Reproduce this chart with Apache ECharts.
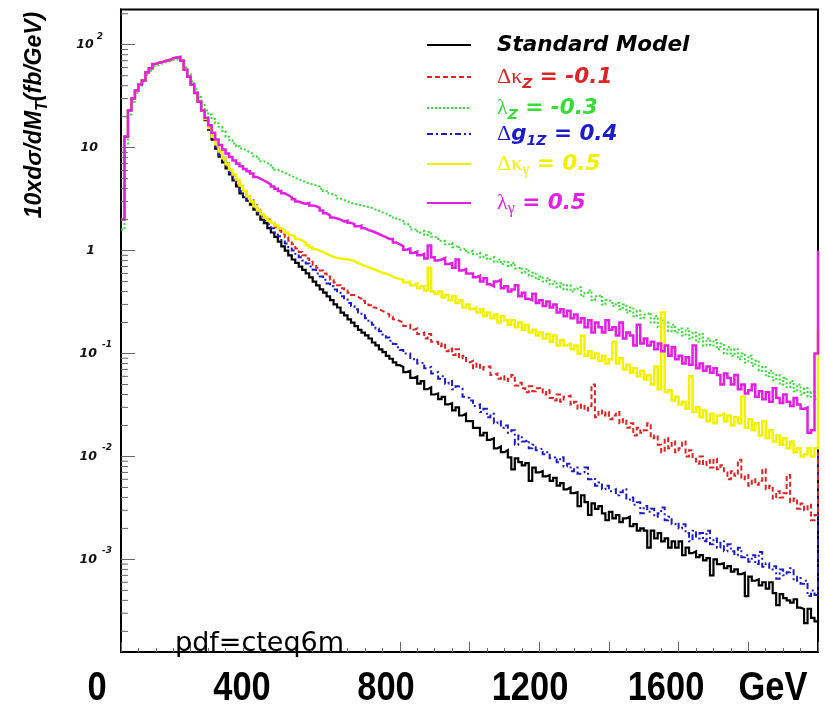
<!DOCTYPE html>
<html>
<head>
<meta charset="utf-8">
<script src="https://cdn.jsdelivr.net/npm/echarts@6/dist/echarts.min.js"></script>
<style>
  html, body { margin: 0; padding: 0; background: #ffffff; }
  #chart { width: 825px; height: 710px; }
</style>
</head>
<body>
<div id="chart"></div>
<script>
// Transverse-mass spectra, 10 GeV bins from 0 to 2000 GeV (last entry = overflow edge)
const BIN_WIDTH = 10;

const standardModel = [
  2.0, 12.8, 23, 30, 36, 41, 45, 54, 59, 65,
  67, 68, 70, 71, 74, 75, 76, 70, 57, 49,
  41, 34, 28, 23, 18.5, 15, 12, 9.8, 8.2, 7.2,
  6.3, 5.5, 4.8, 4.2, 3.6, 3.3, 3.05, 2.8, 2.5, 2.25,
  2.0, 1.85, 1.65, 1.5, 1.36, 1.22, 1.1, 1.0, 0.9, 0.82,
  0.76, 0.7, 0.65, 0.6, 0.55, 0.5, 0.46, 0.42, 0.39, 0.36,
  0.33, 0.3, 0.28, 0.25, 0.235, 0.215, 0.2, 0.185, 0.17, 0.16,
  0.15, 0.14, 0.128, 0.12, 0.11, 0.103, 0.095, 0.089, 0.082, 0.077,
  0.074, 0.066, 0.068, 0.058, 0.06, 0.051, 0.054, 0.045, 0.047, 0.04,
  0.041, 0.036, 0.038, 0.032, 0.033, 0.028, 0.03, 0.025, 0.026, 0.022,
  0.022, 0.019, 0.019, 0.016, 0.017, 0.0145, 0.015, 0.012, 0.0125, 0.011,
  0.0115, 0.0098, 0.0075, 0.0096, 0.0088, 0.0082, 0.0086, 0.0058, 0.0078, 0.007,
  0.0072, 0.0064, 0.0066, 0.0058, 0.0062, 0.0052, 0.0055, 0.0048, 0.005, 0.0044,
  0.0045, 0.0033, 0.0042, 0.0036, 0.0027, 0.0035, 0.0031, 0.0033, 0.0028, 0.0024,
  0.0029, 0.0025, 0.0027, 0.0023, 0.0025, 0.0026, 0.0021, 0.0022, 0.0019, 0.002,
  0.0019, 0.0013, 0.0019, 0.0016, 0.0018, 0.0015, 0.0016, 0.0013, 0.0015, 0.0013,
  0.0015, 0.0011, 0.0013, 0.00115, 0.0012, 0.00105, 0.0011, 0.00098, 0.00103, 0.0007,
  0.001, 0.0009, 0.00092, 0.00082, 0.00086, 0.00076, 0.0008, 0.00072, 0.00074, 0.00044,
  0.00068, 0.00062, 0.00064, 0.00056, 0.0006, 0.00052, 0.0006, 0.00047, 0.00036, 0.00046,
  0.00042, 0.0004, 0.00038, 0.00041, 0.00034, 0.00033, 0.00024, 0.00033, 0.00027, 0.00025,
  0.00026
];

const deltaKappaZ = [
  2.0, 12.8, 23, 30, 36, 41, 45, 54, 59, 65,
  67, 68, 70, 71, 74, 75, 76, 70, 57, 49,
  41, 34, 28, 23, 19.5, 16, 13, 10.8, 9.2, 8.0,
  7.0, 6.1, 5.4, 4.8, 4.2, 3.8, 3.4, 3.1, 2.85, 2.6,
  2.35, 2.15, 2.0, 1.85, 1.7, 1.57, 1.45, 1.35, 1.25, 1.15,
  1.05, 0.97, 0.9, 0.84, 0.78, 0.73, 0.68, 0.64, 0.6, 0.56,
  0.52, 0.49, 0.46, 0.43, 0.41, 0.39, 0.37, 0.355, 0.34, 0.325,
  0.31, 0.295, 0.28, 0.27, 0.26, 0.25, 0.24, 0.228, 0.215, 0.207,
  0.2, 0.185, 0.19, 0.17, 0.175, 0.155, 0.16, 0.14, 0.155, 0.13,
  0.13, 0.118, 0.125, 0.105, 0.112, 0.097, 0.11, 0.09, 0.095, 0.082,
  0.085, 0.072, 0.08, 0.07, 0.074, 0.075, 0.062, 0.064, 0.057, 0.06,
  0.054, 0.057, 0.062, 0.049, 0.052, 0.046, 0.042, 0.048, 0.043, 0.046,
  0.047, 0.04, 0.044, 0.037, 0.035, 0.04, 0.034, 0.038, 0.039, 0.032,
  0.034, 0.029, 0.032, 0.028, 0.031, 0.05, 0.024, 0.028, 0.025, 0.027,
  0.023, 0.025, 0.027, 0.021, 0.023, 0.019, 0.021, 0.016, 0.019, 0.017,
  0.018, 0.021, 0.015, 0.016, 0.013, 0.011, 0.015, 0.012, 0.014, 0.011,
  0.012, 0.014, 0.01, 0.0115, 0.0095, 0.0085, 0.01, 0.0082, 0.0092, 0.0078,
  0.0095, 0.0075, 0.0082, 0.007, 0.006, 0.0072, 0.0065, 0.0093, 0.006, 0.0066,
  0.0052, 0.006, 0.0053, 0.0058, 0.0075, 0.0048, 0.0052, 0.0039, 0.0046, 0.004,
  0.0044, 0.0066, 0.0036, 0.0039, 0.0031, 0.0035, 0.003, 0.0034, 0.0024, 0.0027,
  0.011
];

const lambdaZ = [
  1.6, 11, 21, 28, 34, 39, 43, 51, 56, 62,
  64, 66, 68, 69, 71, 72, 73, 70, 60, 52,
  44, 37, 31, 26, 23, 21, 19, 17.3, 16, 14.5,
  12.8, 11.8, 11, 10.3, 9.8, 9.4, 9.0, 8.7, 8.2, 7.8,
  7.4, 7.1, 6.8, 6.4, 6.1, 5.9, 5.7, 5.5, 5.3, 5.1,
  4.9, 4.8, 4.6, 4.5, 4.4, 4.3, 4.2, 4.0, 3.8, 3.6,
  3.5, 3.4, 3.2, 3.1, 3.0, 2.9, 2.85, 2.8, 2.75, 2.7,
  2.65, 2.6, 2.5, 2.45, 2.35, 2.3, 2.2, 2.15, 2.05, 2.0,
  1.95, 1.82, 1.78, 1.6, 1.62, 1.5, 1.55, 1.42, 1.52, 1.36,
  1.34, 1.25, 1.24, 1.15, 1.18, 1.08, 1.12, 1.02, 1.05, 0.96,
  0.99, 0.92, 0.95, 0.86, 0.9, 0.83, 0.86, 0.78, 0.82, 0.74,
  0.78, 0.71, 0.76, 0.67, 0.69, 0.61, 0.66, 0.57, 0.61, 0.53,
  0.56, 0.5, 0.54, 0.47, 0.5, 0.44, 0.48, 0.42, 0.46, 0.4,
  0.42, 0.44, 0.36, 0.39, 0.41, 0.33, 0.36, 0.37, 0.3, 0.33,
  0.32, 0.29, 0.31, 0.27, 0.3, 0.25, 0.28, 0.23, 0.26, 0.22,
  0.24, 0.25, 0.2, 0.23, 0.18, 0.21, 0.2, 0.165, 0.19, 0.16,
  0.175, 0.15, 0.175, 0.14, 0.16, 0.13, 0.155, 0.12, 0.14, 0.12,
  0.135, 0.11, 0.125, 0.1, 0.115, 0.095, 0.11, 0.088, 0.1, 0.082,
  0.095, 0.076, 0.085, 0.068, 0.074, 0.06, 0.068, 0.055, 0.062, 0.05,
  0.058, 0.047, 0.054, 0.043, 0.05, 0.04, 0.046, 0.038, 0.042, 0.036,
  0.04
];

const deltaG1Z = [
  2.0, 12.8, 23, 30, 36, 41, 45, 54, 59, 65,
  67, 68, 70, 71, 74, 75, 76, 70, 57, 49,
  41, 34, 28, 23, 19, 15.5, 12.5, 10.2, 8.5, 7.4,
  6.5, 5.7, 5.0, 4.3, 3.8, 3.4, 3.1, 2.85, 2.6, 2.35,
  2.15, 1.95, 1.8, 1.65, 1.5, 1.38, 1.27, 1.17, 1.08, 1.0,
  0.93, 0.86, 0.8, 0.75, 0.7, 0.65, 0.6, 0.56, 0.52, 0.48,
  0.45, 0.42, 0.39, 0.36, 0.335, 0.31, 0.29, 0.27, 0.25, 0.235,
  0.22, 0.2, 0.19, 0.175, 0.165, 0.153, 0.143, 0.133, 0.124, 0.115,
  0.108, 0.1, 0.1, 0.088, 0.09, 0.08, 0.082, 0.072, 0.074, 0.064,
  0.066, 0.057, 0.06, 0.051, 0.054, 0.045, 0.048, 0.046, 0.038, 0.037,
  0.035, 0.031, 0.032, 0.027, 0.029, 0.024, 0.026, 0.021, 0.022, 0.019,
  0.02, 0.017, 0.018, 0.013, 0.016, 0.014, 0.0145, 0.012, 0.013, 0.0115,
  0.012, 0.0105, 0.011, 0.0096, 0.01, 0.0088, 0.0098, 0.008, 0.0085, 0.0072,
  0.0078, 0.0068, 0.007, 0.0078, 0.006, 0.0062, 0.0052, 0.0056, 0.0048, 0.0052,
  0.0046, 0.0048, 0.0042, 0.0045, 0.0048, 0.0038, 0.004, 0.0034, 0.0036, 0.0028,
  0.0033, 0.0029, 0.0031, 0.0026, 0.0028, 0.0032, 0.0024, 0.0026, 0.0022, 0.0023,
  0.002, 0.0022, 0.0018, 0.0015, 0.0019, 0.0016, 0.0018, 0.0015, 0.0019, 0.0014,
  0.0016, 0.0013, 0.0015, 0.0012, 0.0014, 0.0012, 0.0011, 0.0013, 0.00105, 0.0011,
  0.00095, 0.0011, 0.0009, 0.00118, 0.00085, 0.00092, 0.0008, 0.00086, 0.00065, 0.0008,
  0.0007, 0.00075, 0.00082, 0.00062, 0.00068, 0.00058, 0.00062, 0.00044, 0.0005, 0.00045,
  0.011
];

const deltaKappaGamma = [
  2.0, 12.8, 23, 30, 36, 41, 45, 54, 59, 65,
  67, 68, 70, 71, 74, 75, 76, 70, 57, 49,
  41, 34, 28, 23, 19, 15.5, 12.8, 10.8, 9.2, 7.9,
  6.9, 6.1, 5.5, 4.9, 4.3, 3.8, 3.35, 3.0, 2.7, 2.45,
  2.25, 2.1, 1.95, 1.85, 1.75, 1.65, 1.58, 1.5, 1.42, 1.36,
  1.3, 1.25, 1.2, 1.13, 1.08, 1.03, 1.0, 0.97, 0.93, 0.9,
  0.87, 0.85, 0.84, 0.83, 0.82, 0.81, 0.79, 0.76, 0.73, 0.71,
  0.69, 0.67, 0.65, 0.63, 0.61, 0.6, 0.58, 0.56, 0.54, 0.53,
  0.52, 0.49, 0.5, 0.46, 0.48, 0.43, 0.45, 0.41, 0.68, 0.4,
  0.38, 0.4, 0.35, 0.37, 0.33, 0.36, 0.31, 0.33, 0.28, 0.3,
  0.27, 0.28, 0.25, 0.27, 0.23, 0.25, 0.22, 0.24, 0.2, 0.23,
  0.21, 0.19, 0.21, 0.18, 0.2, 0.17, 0.19, 0.16, 0.17, 0.15,
  0.16, 0.14, 0.155, 0.13, 0.15, 0.12, 0.135, 0.12, 0.125, 0.11,
  0.12, 0.1, 0.15, 0.095, 0.105, 0.09, 0.1, 0.085, 0.095, 0.08,
  0.088, 0.13, 0.08, 0.09, 0.07, 0.078, 0.065, 0.072, 0.06, 0.068,
  0.056, 0.062, 0.05, 0.075, 0.045, 0.25, 0.042, 0.044, 0.035, 0.038,
  0.032, 0.034, 0.029, 0.06, 0.027, 0.03, 0.024, 0.028, 0.022, 0.026,
  0.021, 0.025, 0.026, 0.022, 0.025, 0.02, 0.024, 0.021, 0.038, 0.019,
  0.023, 0.018, 0.021, 0.016, 0.022, 0.015, 0.018, 0.014, 0.016, 0.013,
  0.015, 0.012, 0.014, 0.011, 0.012, 0.01, 0.0105, 0.012, 0.01, 0.012,
  0.17
];

const lambdaGamma = [
  2.0, 12.8, 23, 30, 36, 41, 45, 54, 59, 65,
  67, 68, 70, 71, 74, 75, 76, 70, 57, 49,
  41, 34, 28, 23, 19.5, 16.5, 14, 12, 10.6, 9.6,
  8.8, 8.1, 7.5, 7.0, 6.6, 6.2, 5.9, 5.6, 5.2, 5.0,
  4.8, 4.6, 4.4, 4.2, 4.0, 3.8, 3.6, 3.45, 3.3, 3.15,
  3.0, 2.9, 2.85, 2.9, 2.75, 2.7, 2.6, 2.45, 2.3, 2.2,
  2.1, 2.05, 2.0, 1.92, 1.95, 1.86, 1.8, 1.72, 1.75, 1.65,
  1.58, 1.55, 1.5, 1.45, 1.4, 1.35, 1.3, 1.3, 1.2, 1.15,
  1.1, 1.02, 1.05, 0.95, 0.98, 0.9, 0.93, 0.84, 1.12, 0.86,
  0.8, 0.82, 0.85, 0.74, 0.76, 0.68, 0.82, 0.64, 0.66, 0.6,
  0.6, 0.55, 0.57, 0.5, 0.54, 0.47, 0.45, 0.5, 0.52, 0.43,
  0.45, 0.4, 0.42, 0.46, 0.36, 0.39, 0.34, 0.33, 0.38, 0.31,
  0.33, 0.29, 0.32, 0.28, 0.3, 0.25, 0.27, 0.23, 0.26, 0.22,
  0.24, 0.2, 0.22, 0.18, 0.21, 0.16, 0.2, 0.18, 0.16, 0.21,
  0.17, 0.18, 0.15, 0.2, 0.14, 0.16, 0.15, 0.12, 0.19, 0.125,
  0.14, 0.12, 0.13, 0.11, 0.125, 0.105, 0.12, 0.095, 0.115, 0.088,
  0.095, 0.08, 0.092, 0.078, 0.12, 0.072, 0.08, 0.068, 0.075, 0.065,
  0.072, 0.062, 0.05, 0.064, 0.058, 0.05, 0.062, 0.045, 0.05, 0.041,
  0.044, 0.05, 0.038, 0.043, 0.036, 0.042, 0.034, 0.046, 0.037, 0.033,
  0.04, 0.034, 0.031, 0.037, 0.032, 0.029, 0.03, 0.017, 0.018, 0.1,
  1.0
];

// Axis and legend text
const massTickLabels = ['0', '400', '800', '1200', '1600', 'GeV'];
const yMantissas = [2, 3, 4, 5, 6, 7, 8, 9];
const yExponents = [-4, -3, -2, -1, 0, 1, 2];
const seriesNames = ['Standard Model', 'Δκ_Z = -0.1', 'λ_Z = -0.3', 'Δg_1Z = 0.4', 'Δκ_γ = 0.5', 'λ_γ = 0.5'];

// Layout constants
const Y_MIN = 1.26e-4, Y_MAX = 220;
const massLabelX = [97, 242, 386, 530, 666, 773];
const legendRowY = [44, 76, 107, 133, 163, 202];
const COLORS = ['#000000', '#de2424', '#33dd33', '#1c1ccc', '#f2f200', '#e41fe4'];

const toPoints = arr => arr.map((v, i) => [i * BIN_WIDTH, v]);

const minorTickValues = [];
yExponents.forEach(e => yMantissas.forEach(m => {
  const v = m * Math.pow(10, e);
  if (v > Y_MIN && v < Y_MAX) minorTickValues.push(v);
}));

const legendText = {
  'Standard Model': '{t|Standard Model}',
  'Δκ_Z = -0.1': '{g|Δκ}{s|Z}{t| = -0.1}',
  'λ_Z = -0.3': '{g|λ}{s|Z}{t| = -0.3}',
  'Δg_1Z = 0.4': '{g|Δ}{t|g}{s|1Z}{t| = 0.4}',
  'Δκ_γ = 0.5': '{g|Δκ}{gs|γ}{t| = 0.5}',
  'λ_γ = 0.5': '{g|λ}{gs|γ}{t| = 0.5}'
};

const boldItalic = { fontFamily: 'DejaVu Sans', fontWeight: 'bold', fontStyle: 'italic' };

const legendRich = {
  t: Object.assign({ fontSize: 21.5, lineHeight: 28 }, boldItalic),
  g: { fontFamily: 'Liberation Serif', fontSize: 22, lineHeight: 28 },
  s: Object.assign({ fontSize: 14, lineHeight: 14, verticalAlign: 'bottom' }, boldItalic),
  gs: { fontFamily: 'Liberation Serif', fontSize: 16, lineHeight: 16, verticalAlign: 'bottom' }
};

function histSeries(name, values, color, width, dash) {
  return {
    name: name,
    type: 'line',
    step: 'end',
    data: toPoints(values),
    symbol: 'none',
    showSymbol: false,
    clip: true,
    z: 3,
    color: color,
    itemStyle: { color: color },
    lineStyle: { color: color, width: width, type: dash || 'solid', cap: 'butt', join: 'miter' },
    emphasis: { disabled: true },
    silent: true
  };
}

const chart = echarts.init(document.getElementById('chart'), null, { renderer: 'canvas' });

chart.setOption({
  animation: false,
  backgroundColor: '#ffffff',
  grid: {
    left: 121, right: 7, top: 9.5, bottom: 58,
    containLabel: false, outerBoundsMode: 'none',
    show: true, borderColor: '#000', borderWidth: 2, backgroundColor: '#fff'
  },
  xAxis: {
    type: 'value', min: 0, max: 2000, interval: 200,
    axisLine: { show: true, onZero: false, lineStyle: { color: '#000', width: 2 } },
    axisTick: { show: true, inside: true, length: 10, lineStyle: { color: '#666', width: 1 } },
    minorTick: { show: true, splitNumber: 4, length: 4, lineStyle: { color: '#666', width: 1 } },
    axisLabel: { show: false },
    splitLine: { show: false },
    minorSplitLine: { show: false }
  },
  yAxis: {
    type: 'log', logBase: 10, min: Y_MIN, max: Y_MAX,
    axisLine: { show: true, lineStyle: { color: '#000', width: 2 } },
    axisTick: { show: true, inside: true, length: 14, lineStyle: { color: '#666', width: 1 } },
    splitLine: { show: false },
    axisLabel: {
      margin: 9,
      showMinLabel: false, showMaxLabel: false,
      color: '#111',
      formatter: function (v) {
        const e = Math.log10(v), r = Math.round(e);
        if (Math.abs(e - r) > 1e-6) return '';
        if (r === 0) return '{p1|1}';
        if (r === 1) return '{p10|10}';
        return '{b|10}' + (r > 0 ? '{sp|' + r + '}' : '{sn|-' + (-r) + '}');
      },
      rich: {
        p1: Object.assign({ fontSize: 12.5, lineHeight: 26, padding: [0, 17, 0, 0] }, boldItalic),
        p10: Object.assign({ fontSize: 12.5, lineHeight: 26, padding: [0, 14, 0, 0] }, boldItalic),
        b: Object.assign({ fontSize: 12.5, lineHeight: 26 }, boldItalic),
        sn: Object.assign({ fontSize: 9, lineHeight: 9, verticalAlign: 'top', padding: [0, 0, 0, 5] }, boldItalic),
        sp: Object.assign({ fontSize: 9, lineHeight: 9, verticalAlign: 'top', padding: [0, 9, 0, 3] }, boldItalic)
      }
    }
  },
  legend: seriesNames.map((name, i) => ({
    orient: 'vertical', left: 426, top: legendRowY[i] - 11,
    itemWidth: 44, itemHeight: 30, itemGap: 0, padding: 0,
    selectedMode: false,
    itemStyle: { opacity: 0 },
    data: [{ name: name, textStyle: { color: COLORS[i] } }],
    formatter: n => legendText[n],
    textStyle: { padding: [0, 0, 0, 21], rich: legendRich }
  })),
  series: [
    histSeries(seriesNames[0], standardModel, COLORS[0], 2.2, 'solid'),
    histSeries(seriesNames[3], deltaG1Z, COLORS[3], 2, [6, 3, 2, 3]),
    histSeries(seriesNames[1], deltaKappaZ, COLORS[1], 2, [5, 3]),
    histSeries(seriesNames[2], lambdaZ, COLORS[2], 2, [2, 2]),
    histSeries(seriesNames[4], deltaKappaGamma, COLORS[4], 2.5, 'solid'),
    histSeries(seriesNames[5], lambdaGamma, COLORS[5], 2.5, 'solid'),
    {
      // log-scale minor ticks at 2..9 x 10^n along the left axis
      type: 'custom',
      silent: true,
      z: 4,
      data: minorTickValues.map(v => [0, v]),
      renderItem: function (params, api) {
        const p = api.coord([0, api.value(1)]);
        return {
          type: 'line',
          shape: { x1: p[0], y1: p[1], x2: p[0] + 7, y2: p[1] },
          style: { stroke: '#666', lineWidth: 1 }
        };
      }
    }
  ],
  graphic: [
    {
      type: 'text', x: 35, y: 115, rotation: Math.PI / 2, z: 10,
      style: {
        text: '{t|10xdσ/dM}{sub|T}{t|(fb/GeV)}',
        align: 'center', verticalAlign: 'middle', fill: '#000',
        rich: {
          t: { fontFamily: 'Liberation Sans', fontWeight: 'bold', fontStyle: 'italic', fontSize: 23, lineHeight: 32 },
          sub: { fontFamily: 'Liberation Sans', fontWeight: 'bold', fontStyle: 'italic', fontSize: 16, lineHeight: 16, verticalAlign: 'bottom' }
        }
      }
    },
    {
      type: 'text', x: 175, y: 657, z: 10,
      style: { text: 'pdf=cteq6m', fontFamily: 'DejaVu Sans', fontSize: 27, fill: '#000', align: 'left', verticalAlign: 'bottom' }
    }
  ].concat(massTickLabels.map((t, i) => ({
    type: 'text', x: massLabelX[i], y: 689, scaleX: 0.84, z: 10,
    style: { text: t, fontFamily: 'Liberation Sans', fontWeight: 'bold', fontSize: 41, fill: '#000', align: 'center', verticalAlign: 'middle' }
  })))
});
</script>
</body>
</html>
